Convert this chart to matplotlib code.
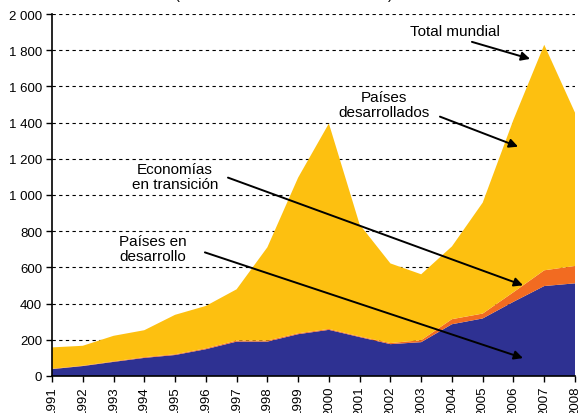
import matplotlib
matplotlib.use("Agg")
import matplotlib.pyplot as plt
from matplotlib.ticker import FuncFormatter

plt.rcParams['font.family'] = ['Liberation Sans', 'DejaVu Sans']

years = list(range(1991, 2009))
# valores (miles de millones de dólares)
en_desarrollo = [38, 55, 78, 100, 116, 148, 190, 190, 231, 255, 215, 176, 187, 286, 318, 410, 497, 512]
en_transicion = [2, 2, 3, 4, 4, 5, 6, 6, 5, 5, 4, 6, 11, 28, 27, 53, 87, 96]
total = [158, 167, 222, 253, 338, 387, 479, 711, 1096, 1395, 837, 622, 562, 716, 958, 1416, 1830, 1455]
desarrollados = [t - a - b for t, a, b in zip(total, en_desarrollo, en_transicion)]

c_blue, c_orange, c_yellow = "#2E3192", "#F26B21", "#FDC010"

fig = plt.figure(figsize=(5.8, 4.14), dpi=100)
ax = fig.add_axes([52/580, 37/414, 523/580, 362/414])

ax.stackplot(years, en_desarrollo, en_transicion, desarrollados,
             colors=[c_blue, c_orange, c_yellow], linewidth=0, zorder=2)

ax.set_xlim(1991, 2008)
ax.set_ylim(0, 2000)
ax.set_yticks(range(0, 2001, 200))
ax.yaxis.set_major_formatter(FuncFormatter(lambda v, p: f"{int(v):,}".replace(",", " ")))
ax.set_xticks(years)
ax.set_xticklabels([str(y) for y in years], rotation=90, va="top", ha="center")
ax.tick_params(axis="both", labelsize=9.5, length=4, width=1, direction="out", colors="black")
ax.tick_params(axis="x", pad=3)
ax.tick_params(axis="y", pad=3)
ax.grid(axis="y", linestyle=(0, (3, 3)), color="black", linewidth=0.8, zorder=1)
ax.set_axisbelow(True)
for s in ["top", "right"]:
    ax.spines[s].set_visible(False)
for s in ["left", "bottom"]:
    ax.spines[s].set_linewidth(1.2)
    ax.spines[s].set_zorder(3)

fig.text(0.49, 1 + 1.5/414, "(En miles de millones de dólares)", ha="center", va="baseline", fontsize=10.5)

tk = dict(ha="center", va="center", fontsize=11, linespacing=1.05)
arr = dict(arrowstyle="-|>", color="black", lw=1.4, mutation_scale=13, shrinkA=0, shrinkB=0)

ax.text(2004.1, 1906, "Total mundial", **tk)
ax.annotate("", xy=(2006.54, 1752), xytext=(2004.65, 1846), arrowprops=arr)

ax.text(2001.79, 1499, "Países\ndesarrollados", **tk)
ax.annotate("", xy=(2006.15, 1267), xytext=(2003.61, 1433), arrowprops=arr)

ax.text(1995.0, 1102, "Economías\nen transición", **tk)
ax.annotate("", xy=(2006.31, 501), xytext=(1996.72, 1096), arrowprops=arr)

ax.text(1994.28, 705, "Países en\ndesarrollo", **tk)
ax.annotate("", xy=(2006.31, 99), xytext=(1995.97, 683), arrowprops=arr)

fig.savefig("out.png", dpi=100)
